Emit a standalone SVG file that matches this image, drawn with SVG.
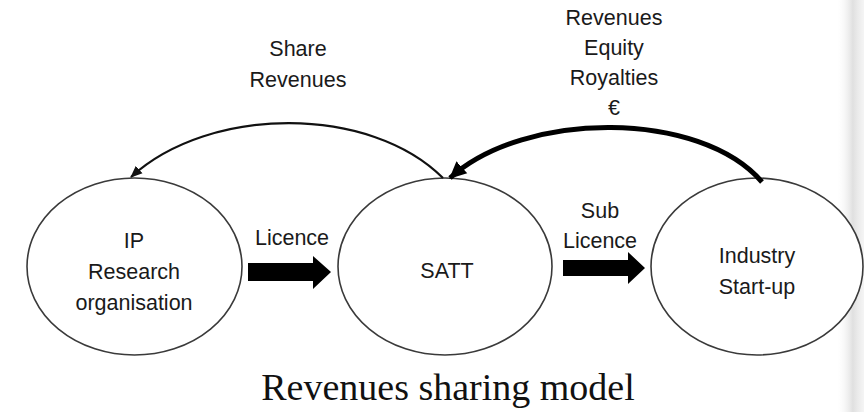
<svg xmlns="http://www.w3.org/2000/svg" width="864" height="412" viewBox="0 0 864 412">
  <style>
    .node { fill: #ffffff; stroke: #3a3a3a; stroke-width: 1.6; }
    .lbl { font-family: "Liberation Sans", Arial, sans-serif; font-size: 21.5px; fill: #1a1a1a; text-anchor: middle; }
    .title { font-family: "Liberation Serif", "Times New Roman", serif; font-size: 38px; fill: #111111; text-anchor: middle; }
    .thin { fill: none; stroke: #111111; stroke-width: 2.2; }
    .thick { fill: none; stroke: #000000; stroke-width: 5; }
    .block { fill: #000000; }
  </style>
  <defs>
    <marker id="headThin" markerUnits="userSpaceOnUse" markerWidth="14" markerHeight="12" refX="11" refY="6" orient="auto">
      <path d="M0,1 L12,6 L0,11 Z" fill="#111111"/>
    </marker>
    <marker id="headThick" markerUnits="userSpaceOnUse" markerWidth="20" markerHeight="18" refX="16" refY="9" orient="auto">
      <path d="M0,1 L17,9 L0,17 Z" fill="#000000"/>
    </marker>
    <linearGradient id="edge" x1="0" y1="0" x2="1" y2="0">
      <stop offset="0" stop-color="#ffffff" stop-opacity="0"/>
      <stop offset="0.6" stop-color="#d8d8d8" stop-opacity="0.8"/>
      <stop offset="1" stop-color="#eeeeee" stop-opacity="0.6"/>
    </linearGradient>
  </defs>
  <rect width="864" height="412" fill="#ffffff"/>
  <rect x="836" y="0" width="28" height="412" fill="url(#edge)"/>

  <g id="node-ip">
    <ellipse class="node" cx="134.5" cy="266.5" rx="107.5" ry="88.5"/>
    <text class="lbl" x="134" y="248">IP</text>
    <text class="lbl" x="134" y="279">Research</text>
    <text class="lbl" x="134" y="310">organisation</text>
  </g>
  <g id="node-satt">
    <ellipse class="node" cx="445" cy="266.5" rx="107" ry="88.5"/>
    <text class="lbl" x="447" y="278">SATT</text>
  </g>
  <g id="node-industry">
    <ellipse class="node" cx="757" cy="266.5" rx="106" ry="88.5"/>
    <text class="lbl" x="757" y="263">Industry</text>
    <text class="lbl" x="757" y="294">Start-up</text>
  </g>

  <g id="connectors">
    <polygon class="block" points="248,263 313,263 313,256 331,272 313,289 313,281 248,281"/>
    <polygon class="block" points="563,260 628,260 628,252 645,268 628,284 628,276 563,276"/>
    <path class="thin" d="M443,178 C370,105 210,105 131,177" marker-end="url(#headThin)"/>
    <path class="thick" d="M762,182 C700,110 525,110 450,178" marker-end="url(#headThick)"/>
    <text class="lbl" x="292" y="245">Licence</text>
    <text class="lbl" x="600" y="218">Sub</text>
    <text class="lbl" x="600" y="248">Licence</text>
    <text class="lbl" x="298" y="56">Share</text>
    <text class="lbl" x="298" y="87">Revenues</text>
    <text class="lbl" x="614" y="25">Revenues</text>
    <text class="lbl" x="614" y="55">Equity</text>
    <text class="lbl" x="614" y="85">Royalties</text>
    <text class="lbl" x="614" y="115">€</text>
  </g>

  <text class="title" x="448" y="400">Revenues sharing model</text>
</svg>
